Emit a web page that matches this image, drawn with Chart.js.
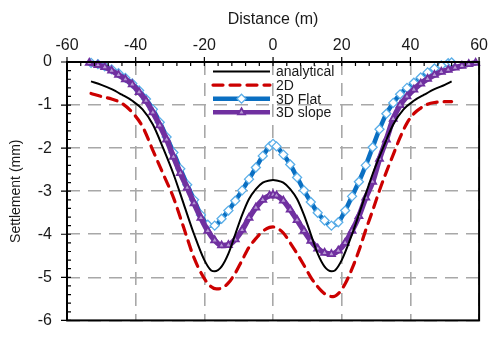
<!DOCTYPE html>
<html>
<head>
<meta charset="utf-8">
<script src="https://cdn.jsdelivr.net/npm/chart.js@4.4.1/dist/chart.umd.min.js"></script>
<style>
  html, body { margin: 0; padding: 0; background: #fff; }
  #wrap { width: 495px; height: 345px; }
</style>
</head>
<body>
<div id="wrap"><canvas id="c" width="495" height="345"></canvas></div>
<script>
// Axis ticks
const xTicks = [-60, -40, -20, 0, 20, 40, 60];
const yTicks = [0, -1, -2, -3, -4, -5, -6];
const seriesNames = ['analytical', '2D', '3D Flat', '3D slope'];

// analytical solution
const analyticalX = [-53, -50, -47, -44, -41, -38, -35, -32, -29, -26, -23, -20, -18, -17, -15, -13, -11, -9, -7, -5, -3, -1, 0,
                     1, 3, 5, 7, 9, 11, 13, 15, 17, 18, 20, 23, 26, 29, 32, 35, 38, 41, 44, 47, 50, 52];
const analyticalY = [-0.45, -0.53, -0.63, -0.76, -0.9, -1.1, -1.45, -2.0, -2.6, -3.3, -4.0, -4.6, -4.84, -4.86, -4.75, -4.45, -4.0, -3.55, -3.18, -2.95, -2.8, -2.75, -2.74,
                     -2.75, -2.8, -2.95, -3.18, -3.55, -4.0, -4.45, -4.75, -4.86, -4.84, -4.6, -4.0, -3.3, -2.6, -2.0, -1.45, -1.1, -0.9, -0.76, -0.63, -0.53, -0.45];

// 2D model
const model2dX = [-53, -50, -47, -44, -41, -38, -35, -32, -29, -26, -23, -20, -18, -16.5, -15, -13, -11, -9, -7, -5, -3, -1, 0,
                  1, 3, 5, 7, 9, 11, 13, 15, 17.5, 19, 21, 23, 25, 27, 29, 31, 33, 35, 37, 39, 41, 43, 45, 47, 50, 52];
const model2dY = [-0.73, -0.8, -0.86, -0.96, -1.17, -1.5, -2.05, -2.6, -3.15, -3.85, -4.55, -5.03, -5.22, -5.27, -5.25, -5.13, -4.9, -4.6, -4.3, -4.1, -3.93, -3.84, -3.83,
                  -3.85, -3.97, -4.2, -4.45, -4.72, -5.0, -5.22, -5.38, -5.45, -5.38, -5.15, -4.8, -4.38, -3.9, -3.45, -2.98, -2.55, -2.15, -1.75, -1.42, -1.2, -1.07, -0.98, -0.94, -0.92, -0.92];

// 3D model, flat ground
const flatX = [-53, -51, -49, -47, -45, -43, -41, -39, -37, -35, -33, -31, -29, -27, -25, -23, -21, -19, -17, -15, -13, -11, -9, -7, -5, -3, -1, 0,
               1, 3, 5, 7, 9, 11, 13, 15, 17, 19, 21, 23, 25, 27, 29, 31, 33, 35, 37, 39, 41, 43, 45, 47, 49, 51, 52];
const flatY = [-0.02, -0.05, -0.1, -0.17, -0.26, -0.37, -0.5, -0.66, -0.86, -1.1, -1.4, -1.74, -2.1, -2.48, -2.85, -3.2, -3.55, -3.78, -3.8, -3.64, -3.45, -3.22, -2.98, -2.72, -2.45, -2.18, -1.96, -1.9,
               -1.96, -2.15, -2.38, -2.68, -2.98, -3.25, -3.5, -3.68, -3.8, -3.72, -3.45, -3.12, -2.78, -2.4, -1.98, -1.56, -1.2, -0.95, -0.75, -0.6, -0.48, -0.36, -0.24, -0.15, -0.08, -0.03, -0.01];

// 3D model, sloping ground
const slopeX = [-53.5, -51, -49, -47, -45, -43, -41, -39, -37, -35, -33, -31, -29, -27, -25, -23, -21, -19, -17, -15, -13, -11, -9, -7, -5, -3, -1, 0,
                1, 3, 5, 7, 9, 11, 13, 15, 17, 19, 21, 23, 25, 27, 29, 31, 33, 35, 37, 39, 41, 43, 45, 47, 49, 51, 53, 55, 57, 59];
const slopeY = [-0.02, -0.07, -0.12, -0.2, -0.3, -0.4, -0.52, -0.7, -0.9, -1.17, -1.47, -1.8, -2.2, -2.58, -2.92, -3.28, -3.62, -3.92, -4.14, -4.26, -4.25, -4.12, -3.9, -3.62, -3.38, -3.2, -3.1, -3.08,
                -3.1, -3.22, -3.43, -3.67, -3.92, -4.15, -4.33, -4.43, -4.46, -4.38, -4.2, -3.92, -3.58, -3.15, -2.78, -2.25, -1.8, -1.32, -1.0, -0.8, -0.64, -0.5, -0.39, -0.3, -0.23, -0.18, -0.13, -0.09, -0.05, -0.02];

const pts = (xs, ys) => xs.map((v, i) => ({ x: v, y: ys[i] }));

const FONT = "'Liberation Sans', Arial, sans-serif";
const TEXT = '#1a1a1a';

// Draws the plot frame and the major/minor tick marks on the left and top axes
const frameTicks = {
  id: 'frameTicks',
  afterDraw(chart, args, o) {
    const { ctx, chartArea: a, scales: { x, y } } = chart;
    ctx.save();
    ctx.strokeStyle = '#000';
    ctx.lineWidth = 1.2;
    ctx.beginPath();
    for (let v = x.min; v <= x.max + 1e-9; v += o.minorX) {
      const px = x.getPixelForValue(v);
      const major = xTicks.some(t => Math.abs(t - v) < 1e-6);
      ctx.moveTo(px, major ? a.top - 5 : a.top);
      ctx.lineTo(px, a.top + 4);
    }
    for (let v = y.max; v >= y.min - 1e-9; v -= o.minorY) {
      const py = y.getPixelForValue(v);
      const major = yTicks.some(t => Math.abs(t - v) < 1e-6);
      ctx.moveTo(major ? a.left - 6 : a.left, py);
      ctx.lineTo(a.left + 4, py);
    }
    ctx.stroke();
    ctx.lineWidth = 2;
    ctx.strokeRect(a.left, a.top, a.right - a.left, a.bottom - a.top);
    ctx.restore();
  }
};

function marker(ctx, style, cx, cy, r) {
  ctx.beginPath();
  if (style === 'rectRot') {
    ctx.moveTo(cx, cy - r); ctx.lineTo(cx + r, cy); ctx.lineTo(cx, cy + r); ctx.lineTo(cx - r, cy);
  } else {
    ctx.moveTo(cx, cy - r); ctx.lineTo(cx + r * 0.87, cy + r * 0.5); ctx.lineTo(cx - r * 0.87, cy + r * 0.5);
  }
  ctx.closePath();
  ctx.fill();
  ctx.stroke();
}

// Legend drawn inside the plot area, without a background box
const innerLegend = {
  id: 'innerLegend',
  afterDraw(chart, args, o) {
    const { ctx } = chart;
    ctx.save();
    chart.data.datasets.forEach((ds, i) => {
      const yy = o.top + i * o.row;
      ctx.setLineDash(ds.borderDash || []);
      ctx.lineCap = ds.borderCapStyle || 'butt';
      ctx.strokeStyle = ds.borderColor;
      ctx.lineWidth = Math.min(ds.borderWidth, 4.5);
      ctx.beginPath();
      ctx.moveTo(o.x0, yy);
      ctx.lineTo(o.x1, yy);
      ctx.stroke();
      ctx.setLineDash([]);
      if (ds.pointRadius > 0) {
        ctx.fillStyle = ds.pointBackgroundColor;
        ctx.strokeStyle = ds.pointBorderColor;
        ctx.lineWidth = ds.pointBorderWidth;
        marker(ctx, ds.pointStyle, (o.x0 + o.x1) / 2, yy, ds.pointRadius);
      }
      ctx.fillStyle = TEXT;
      ctx.font = o.font;
      ctx.textBaseline = 'middle';
      ctx.fillText(ds.label, o.textX, yy + 1);
    });
    ctx.restore();
  }
};

new Chart(document.getElementById('c'), {
  type: 'line',
  data: {
    datasets: [
      {
        label: seriesNames[0], data: pts(analyticalX, analyticalY),
        borderColor: '#000000', borderWidth: 2, pointRadius: 0,
        cubicInterpolationMode: 'monotone', order: 1
      },
      {
        label: seriesNames[1], data: pts(model2dX, model2dY),
        borderColor: '#cc0000', borderWidth: 3.2, borderDash: [10, 7], borderCapStyle: 'round',
        pointRadius: 0, cubicInterpolationMode: 'monotone', order: 2
      },
      {
        label: seriesNames[2], data: pts(flatX, flatY),
        borderColor: '#0a6fc2', borderWidth: 4.5,
        pointStyle: 'rectRot', pointRadius: 4.5, pointBorderWidth: 1.3,
        pointBorderColor: '#5aaee8', pointBackgroundColor: '#ffffff',
        cubicInterpolationMode: 'monotone', order: 4, clip: false
      },
      {
        label: seriesNames[3], data: pts(slopeX, slopeY),
        borderColor: '#7030a0', borderWidth: 5.5,
        pointStyle: 'triangle', pointRadius: 4, pointBorderWidth: 1.8,
        pointBorderColor: '#7030a0', pointBackgroundColor: '#b89ad6',
        cubicInterpolationMode: 'monotone', order: 3, clip: false
      }
    ]
  },
  options: {
    responsive: false,
    animation: false,
    devicePixelRatio: 1,
    layout: { padding: { left: 0, top: 0, right: 10, bottom: 4 } },
    plugins: {
      legend: { display: false },
      tooltip: { enabled: false },
      frameTicks: { minorX: 4, minorY: 0.2 },
      innerLegend: { x0: 213, x1: 270, textX: 276, top: 71.5, row: 13.6, font: '14px ' + FONT }
    },
    scales: {
      x: {
        type: 'linear', position: 'top', min: -60, max: 60,
        afterBuildTicks: s => { s.ticks = xTicks.map(v => ({ value: v })); },
        afterFit: s => { s.height = 62; },
        ticks: { font: { family: FONT, size: 16 }, color: TEXT, padding: 7, maxRotation: 0 },
        grid: { color: '#a8a8a8', lineWidth: 1.6, drawTicks: false },
        border: { display: false, dash: [13, 8] },
        title: { display: true, text: 'Distance (m)', font: { family: FONT, size: 16 }, color: TEXT, padding: { top: 10, bottom: 0 } }
      },
      y: {
        type: 'linear', position: 'left', min: -6, max: 0,
        afterBuildTicks: s => { s.ticks = yTicks.map(v => ({ value: v })); },
        afterFit: s => { s.width = 67; },
        ticks: { font: { family: FONT, size: 16 }, color: TEXT, padding: 15 },
        grid: { color: '#a8a8a8', lineWidth: 1.6, drawTicks: false },
        border: { display: false, dash: [13, 8] },
        title: { display: true, text: 'Settlement (mm)', font: { family: FONT, size: 14 }, color: TEXT, padding: { top: 8, bottom: 0 } }
      }
    }
  },
  plugins: [frameTicks, innerLegend]
});
</script>
</body>
</html>
